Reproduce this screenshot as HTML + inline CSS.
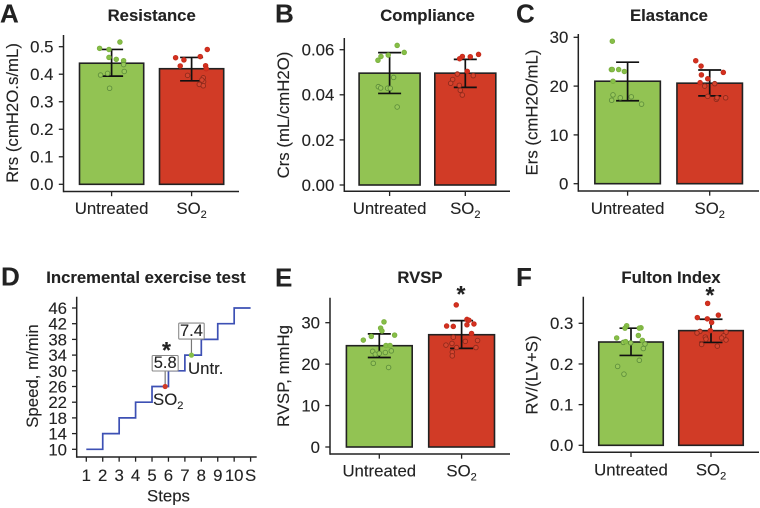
<!DOCTYPE html>
<html lang="en">
<head>
<meta charset="utf-8">
<title>Cardiopulmonary measures: Untreated vs SO2</title>
<style>
html,body{margin:0;padding:0;background:#fff;}
svg{display:block;filter:blur(0.35px);}
text{font-family:"Liberation Sans",Arial,sans-serif;fill:#222;stroke:#222;stroke-width:0.12;}
</style>
</head>
<body>
<svg id="figure" xmlns="http://www.w3.org/2000/svg" width="760" height="508" viewBox="0 0 760 508"></svg>
<script>
// ---- Shared categories ----
const categories = ["Untreated", "SO"];

// ---- Panel A: Resistance ----
const resistanceTicks = [0, 0.1, 0.2, 0.3, 0.4, 0.5];
const resistanceTickLabels = ["0.0", "0.1", "0.2", "0.3", "0.4", "0.5"];
const resistanceMeans = [0.44, 0.42];
const resistanceErrHigh = [0.49, 0.461];
const resistanceErrLow = [0.393, 0.376];
const resistanceUntreated = [0.494, 0.49, 0.517, 0.461, 0.454, 0.449, 0.435, 0.41, 0.403, 0.397, 0.349];
const resistanceUntreatedJitter = [-0.15, -0.033, 0.104, -0.033, 0.058, 0.15, 0.15, 0.158, -0.05, -0.138, -0.025];
const resistanceSO2 = [0.46, 0.452, 0.464, 0.49, 0.43, 0.431, 0.42, 0.396, 0.387, 0.373, 0.363, 0.358, 0.379];
const resistanceSO2Jitter = [-0.2, -0.096, 0.108, 0.196, -0.142, 0.175, 0.183, -0.05, 0.146, 0.15, 0.096, 0.146, 0.129];

// ---- Panel B: Compliance ----
const complianceTicks = [0, 0.02, 0.04, 0.06];
const complianceTickLabels = ["0.00", "0.02", "0.04", "0.06"];
const complianceMeans = [0.0496, 0.0496];
const complianceErrHigh = [0.0587, 0.0557];
const complianceErrLow = [0.0406, 0.0433];
const complianceUntreated = [0.0619, 0.0588, 0.0576, 0.057, 0.0553, 0.0477, 0.0436, 0.043, 0.0429, 0.0429, 0.0346];
const complianceUntreatedJitter = [0.1, 0.193, -0.018, -0.114, -0.154, 0.053, -0.149, -0.118, -0.026, 0.009, 0.1];
const complianceSO2 = [0.0579, 0.057, 0.056, 0.0569, 0.0504, 0.0492, 0.0485, 0.0468, 0.0451, 0.0442, 0.042, 0.0399];
const complianceSO2Jitter = [0.175, -0.039, -0.075, 0.066, 0.026, -0.105, 0.105, -0.167, -0.193, -0.079, -0.066, -0.039];

// ---- Panel C: Elastance ----
const elastanceTicks = [0, 10, 20, 30];
const elastanceTickLabels = ["0", "10", "20", "30"];
const elastanceMeans = [21, 20.6];
const elastanceErrHigh = [24.9, 23.3];
const elastanceErrLow = [17, 18];
const elastanceUntreated = [29.2, 23.4, 23.4, 23.4, 23, 21, 18.2, 17.1, 17.6, 17.8, 16.3];
const elastanceUntreatedJitter = [-0.186, -0.198, -0.186, -0.109, -0.04, -0.178, -0.178, -0.194, -0.089, 0.045, 0.17];
const elastanceSO2 = [25.2, 24.1, 22.3, 22.8, 21.5, 20.7, 20.5, 20, 17.9, 17.3, 17.6, 17.6];
const elastanceSO2Jitter = [-0.17, -0.105, -0.101, 0.166, -0.024, -0.117, 0.061, -0.061, -0.024, 0.081, 0.089, 0.194];

// ---- Panel E: RVSP ----
const rvspTicks = [0, 10, 20, 30];
const rvspTickLabels = ["0", "10", "20", "30"];
const rvspMeans = [24.45, 27.1];
const rvspErrHigh = [27.3, 30.5];
const rvspErrLow = [21.6, 23.8];
const rvspUntreated = [30.2, 28.7, 28, 25.8, 26.7, 27, 24.5, 24.5, 23.1, 23.2, 22.8, 22.4, 22.6, 20.2, 19.2];
const rvspUntreatedJitter = [0.057, 0.016, 0.032, -0.194, -0.097, 0.186, 0.081, 0.13, -0.081, 0.146, 0.073, -0.049, 0, -0.073, 0.113];
const rvspSO2 = [34.3, 30.8, 30.6, 29.7, 29.5, 29.2, 29.1, 27.4, 26.5, 25.7, 25.5, 25, 24.6, 24, 24, 22.9, 22];
const rvspSO2Jitter = [-0.065, 0.065, 0.089, 0.15, 0.065, -0.182, -0.101, 0.121, -0.101, 0.194, 0.045, -0.117, -0.19, -0.061, 0.174, -0.113, -0.113];

// ---- Panel F: Fulton Index ----
const fultonTicks = [0, 0.1, 0.2, 0.3];
const fultonTickLabels = ["0.0", "0.1", "0.2", "0.3"];
const fultonMeans = [0.254, 0.282];
const fultonErrHigh = [0.288, 0.31];
const fultonErrLow = [0.221, 0.253];
const fultonUntreated = [0.294, 0.288, 0.289, 0.288, 0.264, 0.27, 0.258, 0.249, 0.253, 0.255, 0.252, 0.238, 0.209, 0.194, 0.175];
const fultonUntreatedJitter = [-0.054, -0.075, 0.125, 0.104, -0.179, 0.092, 0.142, 0.175, -0.096, -0.067, -0.004, 0.154, 0.104, -0.167, -0.088];
const fultonSO2 = [0.349, 0.314, 0.311, 0.32, 0.302, 0.282, 0.28, 0.276, 0.278, 0.269, 0.264, 0.266, 0.259, 0.261, 0.248, 0.244];
const fultonSO2Jitter = [-0.042, -0.171, -0.046, 0.092, 0.008, -0.008, -0.138, -0.175, 0.188, 0.158, 0.133, -0.071, 0.188, -0.063, -0.117, 0.079];

// ---- Panel D: Incremental exercise test ----
const stepLabels = ["1", "2", "3", "4", "5", "6", "7", "8", "9", "10", "S"];
const stepSpeeds = [10, 14, 18, 22, 26, 30, 34, 38, 42, 46];
const speedTicks = [10, 14, 18, 22, 26, 30, 34, 38, 42, 46];
const so2Exhaustion = [5.8, 26];
const untreatedExhaustion = [7.4, 34];

const NS = "http://www.w3.org/2000/svg";
const root = document.getElementById("figure");
const INK = "#222";
const GREEN = "#92C353";
const RED = "#D13B26";

function el(parent, tag, attrs, text) {
  const n = document.createElementNS(NS, tag);
  for (const k in attrs) n.setAttribute(k, attrs[k]);
  if (text !== undefined) n.textContent = text;
  parent.appendChild(n);
  return n;
}
function named(node, name) {
  
  
  return node;
}
function label(parent, name, x, y, str, size, anchor, weight, rotate) {
  const a = {x: x, y: y, "font-size": size, "text-anchor": anchor || "middle"};
  if (weight) a["font-weight"] = weight;
  if (rotate) a.transform = "rotate(-90 " + x + " " + y + ")";
  return named(el(parent, "text", a, str), name);
}
function so2Label(parent, name, x, y, anchor) {
  const t = label(parent, name, x, y, "SO", 16.8, anchor);
  const sub = el(t, "tspan", {dy: 4, "font-size": 11}, "2");
  
  
  return t;
}

function barPanel(p) {
  const g = named(el(root, "g", {}), p.key + "-panel");
  const yScale = v => p.y0 - (v / p.vRef) * (p.y0 - p.yRef);
  const xCat = i => p.c0 + i * (p.c1 - p.c0);
  const step = p.c1 - p.c0;
  const halfBar = p.barW / 2;
  const capHalf = 11.5;

  label(g, "panel-letter", p.lx, p.ly, p.letter, 26, "start", "bold");
  label(g, "chart-title", p.tx, p.ty, p.title, 16.7, "middle", "bold");
  label(g, "y-axis-title", p.yTitleX, p.yTitleY, p.yTitle, 16.8, "middle", null, true);

  [0, 1].forEach(i => {
    const fill = i === 0 ? GREEN : RED;
    const bar = el(g, "rect", {x: xCat(i) - halfBar, y: yScale(p.means[i]), width: p.barW, height: p.y0 - yScale(p.means[i]), fill: fill, stroke: INK, "stroke-width": 1.6});
    
    
  });

  [0, 1].forEach(i => {
    const eg = el(g, "g", {stroke: "#111", "stroke-width": 1.7, fill: "none"});
    
    
    const cx = xCat(i), hi = yScale(p.hi[i]), lo = yScale(p.lo[i]);
    el(eg, "line", {x1: cx, x2: cx, y1: hi, y2: lo});
    el(eg, "line", {x1: cx - capHalf, x2: cx + capHalf, y1: hi, y2: hi});
    el(eg, "line", {x1: cx - capHalf, x2: cx + capHalf, y1: lo, y2: lo});
  });

  [[p.ptsA, p.jitA, 0], [p.ptsB, p.jitB, 1]].forEach(set => {
    const vals = set[0], jit = set[1], i = set[2];
    vals.forEach((v, k) => {
      const inBar = v < p.means[i];
      const fill = i === 0 ? (inBar ? "#98c85a" : "#86bf47") : (inBar ? "#d6452f" : "#d5301f");
      const stroke = i === 0 ? (inBar ? "#5f8f3c" : "#7cb040") : (inBar ? "#8f2a1c" : "#c42c1c");
      const dot = el(g, "circle", {cx: xCat(i) + jit[k] * step, cy: yScale(v), r: 2.3, fill: fill, stroke: stroke, "stroke-width": 0.9});
      
      
    });
  });

  const yAxis = named(el(g, "g", {}), "y-axis");
  el(yAxis, "line", {x1: p.ax, x2: p.ax, y1: p.top, y2: p.bottom + 0.7, stroke: INK, "stroke-width": 1.5});
  p.ticks.forEach((v, i) => {
    el(yAxis, "line", {x1: p.ax - 4.7, x2: p.ax, y1: yScale(v), y2: yScale(v), stroke: INK, "stroke-width": 1.3});
    label(yAxis, "y-tick-label", p.ax - 10, yScale(v) + 5.9, p.tickLabels[i], 16.8, "end");
  });

  const xAxis = named(el(g, "g", {}), "x-axis");
  el(xAxis, "line", {x1: p.ax, x2: p.right, y1: p.bottom, y2: p.bottom, stroke: INK, "stroke-width": 1.5});
  [0, 1].forEach(i => {
    el(xAxis, "line", {x1: xCat(i), x2: xCat(i), y1: p.bottom, y2: p.bottom + 4.7, stroke: INK, "stroke-width": 1.3});
  });
  label(xAxis, "x-tick-label-untreated", xCat(0), p.catY, categories[0], 16.8);
  so2Label(xAxis, "x-tick-label-so2", xCat(1), p.catY);

  if (p.star) {
    label(g, "significance-star", p.star[0], p.star[1], "*", 23, "middle", "bold");
  }
}

barPanel({key: "resistance", letter: "A", title: "Resistance", yTitle: "Rrs (cmH2O.s/mL)",
  lx: 0, ly: 22.7, tx: 151.7, ty: 21, yTitleX: 18, yTitleY: 113,
  ax: 63.5, top: 35, bottom: 191.5, right: 239, y0: 184.3, yRef: 46.7, vRef: 0.5,
  c0: 111.6, c1: 191.6, barW: 64.2, catY: 214,
  ticks: resistanceTicks, tickLabels: resistanceTickLabels,
  means: resistanceMeans, hi: resistanceErrHigh, lo: resistanceErrLow,
  ptsA: resistanceUntreated, jitA: resistanceUntreatedJitter, ptsB: resistanceSO2, jitB: resistanceSO2Jitter});

barPanel({key: "compliance", letter: "B", title: "Compliance", yTitle: "Crs (mL/cmH2O)",
  lx: 275, ly: 22.7, tx: 427.5, ty: 21, yTitleX: 289, yTitleY: 115,
  ax: 344.3, top: 38, bottom: 191.3, right: 510, y0: 185, yRef: 49.7, vRef: 0.06,
  c0: 389.6, c1: 465.3, barW: 61, catY: 214,
  ticks: complianceTicks, tickLabels: complianceTickLabels,
  means: complianceMeans, hi: complianceErrHigh, lo: complianceErrLow,
  ptsA: complianceUntreated, jitA: complianceUntreatedJitter, ptsB: complianceSO2, jitB: complianceSO2Jitter});

barPanel({key: "elastance", letter: "C", title: "Elastance", yTitle: "Ers (cmH2O/mL)",
  lx: 516, ly: 22.7, tx: 669, ty: 21, yTitleX: 537.5, yTitleY: 112.5,
  ax: 578.3, top: 34, bottom: 191, right: 759, y0: 183.7, yRef: 37.3, vRef: 30,
  c0: 627.6, c1: 709.7, barW: 65.5, catY: 214,
  ticks: elastanceTicks, tickLabels: elastanceTickLabels,
  means: elastanceMeans, hi: elastanceErrHigh, lo: elastanceErrLow,
  ptsA: elastanceUntreated, jitA: elastanceUntreatedJitter, ptsB: elastanceSO2, jitB: elastanceSO2Jitter});

barPanel({key: "rvsp", letter: "E", title: "RVSP", yTitle: "RVSP, mmHg",
  lx: 275, ly: 286.7, tx: 420, ty: 283, yTitleX: 289, yTitleY: 376,
  ax: 330, top: 297.7, bottom: 454, right: 510, y0: 447, yRef: 322.7, vRef: 30,
  c0: 379.3, c1: 461.6, barW: 65.8, catY: 476.7, star: [461, 302],
  ticks: rvspTicks, tickLabels: rvspTickLabels,
  means: rvspMeans, hi: rvspErrHigh, lo: rvspErrLow,
  ptsA: rvspUntreated, jitA: rvspUntreatedJitter, ptsB: rvspSO2, jitB: rvspSO2Jitter});

barPanel({key: "fulton", letter: "F", title: "Fulton Index", yTitle: "RV/(LV+S)",
  lx: 516, ly: 286, tx: 671, ty: 283, yTitleX: 537.5, yTitleY: 375,
  ax: 583.3, top: 296.7, bottom: 452.3, right: 759, y0: 445.3, yRef: 323.3, vRef: 0.3,
  c0: 631, c1: 711, barW: 64.5, catY: 475.7, star: [710, 303],
  ticks: fultonTicks, tickLabels: fultonTickLabels,
  means: fultonMeans, hi: fultonErrHigh, lo: fultonErrLow,
  ptsA: fultonUntreated, jitA: fultonUntreatedJitter, ptsB: fultonSO2, jitB: fultonSO2Jitter});

// Panel D
(function () {
  const g = named(el(root, "g", {}), "exercise-test-panel");
  const xStep = s => 86.3 + (s - 1) * 16.43;
  const ySpeed = v => 449.3 - (v - 10) * 3.925;
  const axX = 76.7, axY = 457;

  label(g, "panel-letter", 1, 285.7, "D", 26, "start", "bold");
  label(g, "chart-title", 146, 283, "Incremental exercise test", 16.7, "middle", "bold");
  label(g, "y-axis-title", 38, 376, "Speed, m/min", 16.8, "middle", null, true);
  label(g, "x-axis-title", 168.5, 501.5, "Steps", 16.8);

  let d = "";
  stepSpeeds.forEach((v, i) => {
    d += (i === 0 ? "M" : "L") + xStep(i + 1) + " " + ySpeed(v) + " L" + xStep(i + 2) + " " + ySpeed(v) + " ";
  });
  const stair = el(g, "path", {d: d, fill: "none", stroke: "#3D50B4", "stroke-width": 1.7});
  
  

  function callout(name, pt, boxW, boxH, boxLift, color) {
    const px = xStep(pt[0]), py = ySpeed(pt[1]);
    const boxBottom = py - boxLift;
    const cg = named(el(g, "g", {}), name);
    el(cg, "line", {x1: px, x2: px, y1: boxBottom, y2: py, stroke: "#777", "stroke-width": 1.2});
    el(cg, "rect", {x: px - boxW / 2, y: boxBottom - boxH, width: boxW, height: boxH, fill: "#fff", stroke: "#8a8a8a", "stroke-width": 1.1, rx: 1});
    label(cg, "value-label", px, boxBottom - 3, String(pt[0]), 16.5);
    el(cg, "circle", {cx: px, cy: py, r: 2.6, fill: color});
  }
  callout("so2-callout", so2Exhaustion, 26, 15.5, 15.5, RED);
  callout("untreated-callout", untreatedExhaustion, 25.5, 16, 16, "#86bf47");

  label(g, "significance-star", 166.5, 358, "*", 23, "middle", "bold");
  label(g, "untreated-annotation", 188, 374, "Untr.", 16.8, "start");
  so2Label(g, "so2-annotation", 153, 405, "start");

  const yAxis = named(el(g, "g", {}), "y-axis");
  el(yAxis, "line", {x1: axX, x2: axX, y1: 296.7, y2: axY + 0.7, stroke: INK, "stroke-width": 1.5});
  speedTicks.forEach(v => {
    el(yAxis, "line", {x1: axX - 4.7, x2: axX, y1: ySpeed(v), y2: ySpeed(v), stroke: INK, "stroke-width": 1.3});
    label(yAxis, "y-tick-label", 67, ySpeed(v) + 6, String(v), 16.8, "end");
  });

  const xAxis = named(el(g, "g", {}), "x-axis");
  el(xAxis, "line", {x1: axX, x2: 256.7, y1: axY, y2: axY, stroke: INK, "stroke-width": 1.5});
  stepLabels.forEach((s, i) => {
    const x = xStep(i + 1);
    el(xAxis, "line", {x1: x, x2: x, y1: axY, y2: axY + 4.7, stroke: INK, "stroke-width": 1.3});
    label(xAxis, "x-tick-label", x, 481, s, 16.8);
  });
})();
</script>
</body>
</html>
